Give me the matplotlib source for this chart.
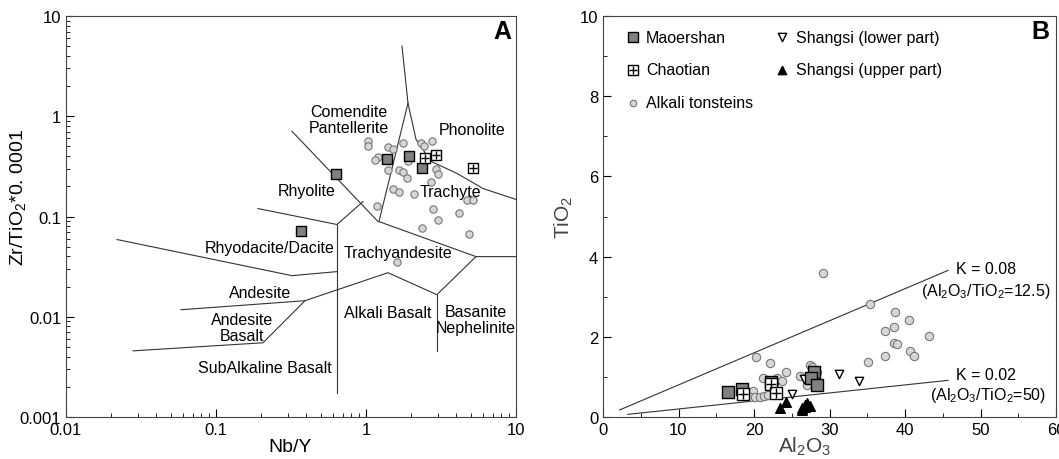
import matplotlib.pyplot as plt
from matplotlib.ticker import FuncFormatter, MultipleLocator, LogLocator

plt.rcParams['font.family'] = ['Liberation Sans', 'DejaVu Sans']
plt.rcParams['mathtext.fontset'] = 'custom'
plt.rcParams['mathtext.rm'] = 'Liberation Sans'
plt.rcParams['mathtext.it'] = 'Liberation Sans'

# ---- Panel A: Nb/Y vs Zr/TiO2*0.0001 ----
ton_nby = [1.026, 1.026, 1.396, 1.52, 1.208, 1.148, 1.773, 1.914, 2.327, 2.447,
           2.742, 1.408, 1.667, 1.773, 1.868, 2.93, 3.006, 2.71, 1.52, 1.667,
           2.099, 4.73, 5.19, 1.19, 2.786, 4.19, 3.006, 2.35, 4.84, 1.603]
ton_zrti = [0.566, 0.505, 0.498, 0.475, 0.392, 0.363, 0.546, 0.357, 0.537, 0.505,
            0.566, 0.288, 0.288, 0.277, 0.244, 0.295, 0.267, 0.22, 0.19, 0.177,
            0.166, 0.146, 0.145, 0.126, 0.118, 0.109, 0.0933, 0.0776, 0.0676, 0.0349]
mao_nby = [0.634, 1.374, 1.935, 2.37, 0.367]
mao_zrti = [0.263, 0.378, 0.401, 0.307, 0.0724]
chao_nby = [2.473, 2.915, 5.14]
chao_zrti = [0.380, 0.410, 0.304]

# field boundaries, (Nb/Y list, Zr/TiO2 list)
rhyolite_top = ([0.321, 1.202], [0.708, 0.0891])
phonolite_line = ([1.738, 1.905, 2.154, 2.71, 4.04, 6.03, 10.0],
                  [5.01, 1.349, 0.589, 0.355, 0.269, 0.19, 0.148])
comendite_right = ([1.905, 1.22], [1.349, 0.089])
trachyte_low = ([1.22, 5.41, 10.0], [0.089, 0.0398, 0.0398])
rhyolite_low = ([0.1905, 0.641, 0.955], [0.12, 0.0832, 0.141])
divide_main = ([0.641, 0.641], [0.0832, 0.00174])
dacite_low = ([0.0219, 0.321, 0.641], [0.0589, 0.0257, 0.0282])
trachyand_low = ([0.0584, 0.392, 1.40, 2.97, 5.41], [0.01175, 0.01445, 0.0275, 0.0166, 0.0398])
basanite_left = ([2.97, 2.97], [0.0166, 0.00457])
andbas_low = ([0.028, 0.2057, 0.392], [0.00457, 0.0055, 0.01445])

# ---- Panel B: Al2O3 vs TiO2 ----
ton_al = [29.2, 35.3, 38.7, 40.5, 38.55, 37.4, 43.2, 38.6, 39.0, 40.6, 41.2, 37.4,
          35.1, 20.2, 22.1, 24.2, 21.2, 23.0, 23.7, 19.9, 19.5, 20.1, 20.75, 21.3,
          21.9, 27.4, 27.7, 26.1, 27.0, 28.3]
ton_ti = [3.59, 2.83, 2.63, 2.43, 2.24, 2.14, 2.03, 1.84, 1.82, 1.65, 1.53, 1.51,
          1.37, 1.49, 1.34, 1.12, 0.97, 0.975, 0.91, 0.66, 0.49, 0.51, 0.49, 0.53,
          0.56, 1.30, 1.24, 1.01, 0.79, 1.13]
mao_al = [16.5, 18.4, 22.2, 27.9, 27.5, 28.3]
mao_ti = [0.62, 0.70, 0.88, 1.13, 0.97, 0.80]
chao_al = [18.6, 22.3, 22.85]
chao_ti = [0.575, 0.83, 0.60]
low_al = [22.7, 25.0, 26.6, 31.2, 33.9]
low_ti = [0.75, 0.57, 0.96, 1.07, 0.91]
up_al = [23.4, 24.2, 26.3, 26.4, 26.7, 27.0, 27.4, 26.8]
up_ti = [0.22, 0.38, 0.22, 0.17, 0.30, 0.35, 0.27, 0.24]
k_values = [0.08, 0.02]
k_start = [2.2, 3.3]
k_end = [45.7, 45.7]

MAO = dict(marker='s', facecolor='#808080', edgecolor='black', linewidth=1.0, zorder=4)
TON = dict(marker='o', facecolor='#d6d6d6', edgecolor='#777777', linewidth=0.8, zorder=3)
LINE = dict(color='#333333', linewidth=0.8)


def chaotian(ax, x, y, size):
	ax.scatter(x, y, s=size, marker='s', facecolor='white', edgecolor='black',
	           linewidth=1.0, zorder=5)
	ax.scatter(x, y, s=size * 0.8, marker='+', color='black', linewidth=1.0, zorder=6)


fig = plt.figure(figsize=(10.59, 4.6), dpi=100)
axA = fig.add_axes([66 / 1059, 42 / 460, 450 / 1059, 401 / 460])
axB = fig.add_axes([603 / 1059, 42 / 460, 453 / 1059, 401 / 460])

axA.set_xscale('log')
axA.set_yscale('log')
axA.set_xlim(0.01, 10)
axA.set_ylim(0.001, 10)
for bx, by in [rhyolite_top, phonolite_line, comendite_right, trachyte_low,
               rhyolite_low, divide_main, dacite_low, trachyand_low,
               basanite_left, andbas_low]:
	axA.plot(bx, by, **LINE)

axA.scatter(ton_nby, ton_zrti, s=28, **TON)
axA.scatter(mao_nby, mao_zrti, s=55, **MAO)
chaotian(axA, chao_nby, chao_zrti, 50)

fs = 11.5
axA.text(0.77, 0.93, 'Comendite\nPantellerite', fontsize=fs, ha='center', va='center', linespacing=1.1)
axA.text(5.07, 0.74, 'Phonolite', fontsize=fs, ha='center', va='center')
axA.text(0.403, 0.182, 'Rhyolite', fontsize=fs, ha='center', va='center')
axA.text(3.63, 0.178, 'Trachyte', fontsize=fs, ha='center', va='center')
axA.text(0.229, 0.049, 'Rhyodacite/Dacite', fontsize=fs, ha='center', va='center')
axA.text(1.63, 0.0437, 'Trachyandesite', fontsize=fs, ha='center', va='center')
axA.text(0.197, 0.0174, 'Andesite', fontsize=fs, ha='center', va='center')
axA.text(0.149, 0.00776, 'Andesite\nBasalt', fontsize=fs, ha='center', va='center', linespacing=1.1)
axA.text(0.212, 0.00309, 'SubAlkaline Basalt', fontsize=fs, ha='center', va='center')
axA.text(1.40, 0.011, 'Alkali Basalt', fontsize=fs, ha='center', va='center')
axA.text(5.41, 0.00933, 'Basanite\nNephelinite', fontsize=fs, ha='center', va='center', linespacing=1.1)
axA.text(0.97, 0.963, 'A', transform=axA.transAxes, fontsize=18, fontweight='bold',
         ha='center', va='center')

axA.xaxis.set_major_locator(LogLocator(base=10))
axA.yaxis.set_major_locator(LogLocator(base=10))
fmt = FuncFormatter(lambda v, p: '%g' % v)
axA.xaxis.set_major_formatter(fmt)
axA.yaxis.set_major_formatter(fmt)
axA.set_xlabel('Nb/Y', fontsize=14)
axA.set_ylabel(r'Zr/TiO$_2$*0. 0001', fontsize=14)
axA.xaxis.set_label_coords(0.498, -0.052)
axA.yaxis.set_label_coords(-0.085, 0.55)

# ---- panel B ----
axB.set_xlim(0, 60)
axB.set_ylim(0, 10)
for k, x0, x1 in zip(k_values, k_start, k_end):
	axB.plot([x0, x1], [k * x0, k * x1], **LINE)
axB.scatter(ton_al, ton_ti, s=36, **TON)
axB.scatter(low_al, low_ti, s=36, marker='v', facecolor='white', edgecolor='black',
            linewidth=1.0, zorder=4)
axB.scatter(up_al, up_ti, s=48, marker='^', color='black', zorder=4)
axB.scatter(mao_al, mao_ti, s=80, **MAO)
chaotian(axB, chao_al, chao_ti, 70)

axB.text(50.7, 3.7, 'K = 0.08', fontsize=fs, ha='center', va='center')
axB.text(50.7, 3.15, r'(Al$_2$O$_3$/TiO$_2$=12.5)', fontsize=fs, ha='center', va='center')
axB.text(50.7, 1.05, 'K = 0.02', fontsize=fs, ha='center', va='center')
axB.text(51.0, 0.55, r'(Al$_2$O$_3$/TiO$_2$=50)', fontsize=fs, ha='center', va='center')
axB.text(0.965, 0.963, 'B', transform=axB.transAxes, fontsize=18, fontweight='bold',
         ha='center', va='center')

h_mao = axB.scatter([], [], s=45, **MAO)
h_sq = axB.scatter([], [], s=45, marker='s', facecolor='white', edgecolor='black', linewidth=1.0)
h_pl = axB.scatter([], [], s=36, marker='+', color='black', linewidth=1.0)
h_ton = axB.scatter([], [], s=22, **TON)
h_low = axB.scatter([], [], s=36, marker='v', facecolor='white', edgecolor='black', linewidth=1.0)
h_up = axB.scatter([], [], s=36, marker='^', color='black')
axB.legend([h_mao, (h_sq, h_pl), h_ton, h_low, h_up],
           ['Maoershan', 'Chaotian', 'Alkali tonsteins',
            'Shangsi (lower part)', 'Shangsi (upper part)'],
           loc='upper left', bbox_to_anchor=(0.03, 0.99), ncol=2, frameon=False,
           fontsize=fs, labelspacing=1.12, handlelength=0.8, handletextpad=0.45,
           columnspacing=1.4, borderaxespad=0.2)

axB.xaxis.set_major_locator(MultipleLocator(10))
axB.xaxis.set_minor_locator(MultipleLocator(5))
axB.yaxis.set_major_locator(MultipleLocator(2))
axB.yaxis.set_minor_locator(MultipleLocator(1))
axB.set_xlabel(r'Al$_2$O$_3$', fontsize=15, color='#444444')
axB.set_ylabel(r'TiO$_2$', fontsize=15, color='#444444')
axB.xaxis.set_label_coords(0.446, -0.045)
axB.yaxis.set_label_coords(-0.062, 0.5)

for ax in (axA, axB):
	ax.tick_params(which='both', direction='in', labelsize=12)
	ax.tick_params(which='major', length=6)
	ax.tick_params(which='minor', length=3)
	for sp in ax.spines.values():
		sp.set_color('#444444')

fig.savefig('out.png', dpi=100)
